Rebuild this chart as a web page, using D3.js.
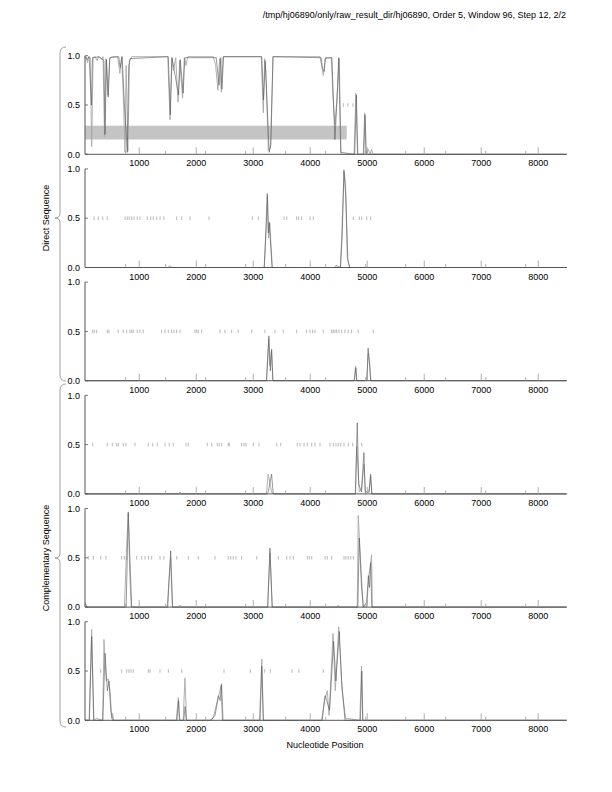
<!DOCTYPE html>
<html>
<head>
<meta charset="utf-8" />
<script src="https://d3js.org/d3.v7.min.js"></script>
<style>
  body { margin: 0; background: #fff; }
  text { font-family: "Liberation Sans", Arial, sans-serif; }
</style>
</head>
<body>
<div id="chart"></div>
<script>

// tick labels / axis values
var xMajor = [1000, 2000, 3000, 4000, 5000, 6000, 7000, 8000]
var xMinor = [761, 1463, 2165, 2867, 3569, 4271, 4973, 5675, 6377, 7079, 7781]
var yTicks = [0, 0.5, 1]
var titleText = "/tmp/hj06890/only/raw_result_dir/hj06890, Order 5, Window 96, Step 12, 2/2"

// panel 1 (frame 1, direct)
var p1Gray = [[48,0.97],[70,0.99],[90,0.93],[110,0.99],[140,0.98],[165,0.08],[190,0.98],[230,0.99],[260,0.95],[285,0.99],[345,0.96],[365,0.99],[390,0.18],[415,0.97],[450,0.6],[480,0.97],[520,0.99],[620,0.99],[660,0.82],[690,0.99],[720,0.6],[750,0.02],[770,0.9],[800,0.03],[830,0.95],[870,0.99],[1500,0.99],[1540,0.35],[1570,0.98],[1600,0.85],[1640,0.98],[1680,0.53],[1710,0.95],[1760,0.57],[1790,0.98],[1820,0.9],[1850,0.99],[2300,0.99],[2340,0.9],[2380,0.65],[2410,0.97],[2440,0.63],[2470,0.99],[3140,0.99],[3176,0.42],[3200,0.97],[3225,0.8],[3263,0.04],[3300,0.06],[3350,0.99],[4170,0.99],[4200,0.9],[4230,0.8],[4260,0.97],[4370,0.98],[4400,0.57],[4433,0.3],[4463,0.52],[4509,0.97],[4540,0.0],[4770,0.0],[4800,0.62],[4830,0.0],[4930,0.0],[4955,0.42],[4980,0.0],[5020,0.05],[5050,0],[5077,0.05],[5100,0],[8500,0]]
var p1Dark = [[48,0.99],[85,0.96],[120,0.99],[160,0.5],[178,0.98],[300,0.99],[380,0.95],[400,0.2],[425,0.96],[455,0.58],[485,0.98],[640,0.99],[665,0.88],[700,0.99],[740,0.5],[790,0.02],[815,0.9],[840,0.97],[1510,0.99],[1545,0.4],[1575,0.98],[1690,0.6],[1720,0.96],[1770,0.62],[1800,0.98],[2350,0.98],[2400,0.7],[2430,0.98],[2450,0.66],[2480,0.99],[3150,0.99],[3180,0.55],[3210,0.95],[3280,0.02],[3310,0.1],[3345,0.99],[4190,0.98],[4215,0.87],[4245,0.84],[4270,0.98],[4380,0.98],[4410,0.5],[4433,0.15],[4470,0.55],[4500,0.98],[4535,0.02],[4780,0.0],[4810,0.6],[4835,0.0],[4940,0.0],[4962,0.4],[4985,0.0],[8500,0]]
var p1Band = [0.15, 0.29]
var p1BandEnd = 4640
var p1Ticks = [4580, 4660, 4750]

// panel 2 (frame 2, direct)
var p2Gray = [[48,0],[1500,0],[1540,0.02],[1570,0],[3190,0],[3230,0.4],[3250,0.72],[3270,0.3],[3290,0.45],[3335,0],[4530,0],[4570,0.6],[4595,0.97],[4620,0.85],[4650,0.1],[4670,0.05],[4700,0],[8500,0]]
var p2Dark = [[48,0],[3195,0],[3246,0.75],[3265,0.35],[3281,0.46],[3330,0],[4420,0],[4450,0.02],[4530,0],[4560,0.3],[4591,0.99],[4625,0.7],[4660,0.08],[4690,0],[8500,0]]
var p2Ticks = [206,281,359,439,750,790,825,867,908,966,1013,1141,1201,1246,1306,1364,1434,1657,1745,1890,2224,2983,3089,3540,3587,3762,3798,3850,3996,4054,4756,4861,4903,4991,5061]

// panel 3 (frame 3, direct)
var p3Gray = [[48,0],[3230,0],[3270,0.42],[3290,0.15],[3320,0.3],[3345,0],[4770,0],[4796,0.15],[4820,0],[4990,0],[5018,0.28],[5040,0.2],[5065,0],[8500,0]]
var p3Dark = [[48,0],[3235,0],[3275,0.455],[3300,0.1],[3323,0.32],[3345,0],[4775,0],[4800,0.13],[4815,0],[4995,0],[5015,0.33],[5030,0.24],[5060,0],[8500,0]]
var p3Ticks = [182,211,253,439,468,632,719,779,837,867,895,965,1012,1070,1393,1451,1509,1568,1609,1656,1714,1977,2007,2035,2095,2416,2504,2621,2737,2972,3205,3381,3526,3761,3937,3995,4042,4082,4228,4375,4404,4433,4463,4504,4551,4609,4667,4726,4842,5105]

// panel 4 (frame 1, complementary)
var p4Gray = [[48,0],[1690,0],[1714,0.02],[1740,0],[3230,0],[3263,0.2],[3322,0.02],[3350,0],[4790,0],[4815,0.48],[4835,0.3],[4860,0.02],[4900,0.05],[4942,0.3],[4970,0.02],[5030,0.03],[5059,0.18],[5085,0],[8500,0]]
var p4Dark = [[48,0],[3240,0],[3263,0.02],[3322,0.2],[3350,0],[4795,0],[4825,0.72],[4850,0.1],[4900,0.02],[4942,0.42],[4965,0],[5035,0.02],[5059,0.2],[5080,0],[8500,0]]
var p4Ticks = [183,439,527,604,632,720,767,925,1159,1236,1317,1452,1527,1597,1820,1860,2194,2271,2369,2404,2447,2562,2580,2797,2838,2873,3001,3101,3412,3482,3773,3820,3891,3948,4026,4084,4171,4347,4405,4452,4492,4535,4592,4668,4745,4903]

// panel 5 (frame 2, complementary)
var p5Gray = [[48,0.05],[70,0.02],[90,0],[740,0],[780,0.64],[807,0.95],[835,0.3],[860,0],[1490,0],[1530,0.35],[1551,0.5],[1580,0],[1700,0],[1714,0.02],[1740,0],[3255,0],[3293,0.55],[3333,0],[4480,0],[4491,0.02],[4505,0],[4825,0],[4842,0.93],[4880,0.5],[4930,0],[4990,0],[5030,0.32],[5077,0.53],[5090,0],[8500,0]]
var p5Dark = [[48,0.03],[80,0],[770,0],[807,0.965],[867,0],[1500,0],[1551,0.57],[1585,0],[3252,0],[3293,0.6],[3333,0],[4835,0],[4860,0.7],[4900,0.2],[4930,0],[4990,0.05],[5020,0.32],[5040,0.2],[5060,0.45],[5080,0],[8500,0]]
var p5Ticks = [106,194,323,416,692,738,780,955,1043,1101,1159,1218,1364,1434,1657,1860,2036,2329,2562,2604,2650,2697,2797,3061,3440,3587,3645,3703,3949,3984,4026,4259,4299,4377,4592,4627,4668,4710,4756]

// panel 6 (frame 3, complementary)
var p6Gray = [[48,0],[120,0],[165,0.92],[205,0],[250,0.02],[358,0],[381,0.82],[420,0.4],[456,0.42],[486,0.3],[520,0.02],[533,0.07],[550,0],[1650,0],[1684,0.23],[1710,0],[1770,0],[1802,0.43],[1830,0],[2240,0],[2300,0.03],[2380,0.22],[2416,0.3],[2445,0.37],[2470,0],[3110,0],[3150,0.62],[3180,0],[4200,0],[4250,0.2],[4300,0.3],[4330,0.05],[4400,0.88],[4440,0.3],[4500,0.95],[4560,0.3],[4620,0.02],[4870,0],[4900,0.55],[4925,0],[8500,0]]
var p6Dark = [[48,0],[125,0],[165,0.85],[200,0],[360,0],[400,0.68],[440,0.3],[470,0.4],[500,0.1],[530,0],[1660,0],[1690,0.2],[1705,0],[1780,0],[1805,0.14],[1825,0],[2260,0],[2330,0.05],[2390,0.25],[2420,0.2],[2440,0.36],[2460,0],[3120,0],[3150,0.55],[3175,0],[4210,0],[4260,0.25],[4290,0.2],[4340,0.1],[4410,0.8],[4450,0.4],[4510,0.9],[4550,0.4],[4610,0],[4880,0],[4905,0.5],[4920,0],[8500,0]]
var p6Ticks = [323,692,780,820,855,895,1159,1188,1364,1510,1745,2487,2950,3200,3300,3680,3800,4230]

var panels = [
  {gray: p1Gray, dark: p1Dark, ticks: p1Ticks, band: true},
  {gray: p2Gray, dark: p2Dark, ticks: p2Ticks},
  {gray: p3Gray, dark: p3Dark, ticks: p3Ticks},
  {gray: p4Gray, dark: p4Dark, ticks: p4Ticks},
  {gray: p5Gray, dark: p5Dark, ticks: p5Ticks},
  {gray: p6Gray, dark: p6Dark, ticks: p6Ticks}
]

var W = 612, H = 792
var top0 = 55.7, pitch = 113.2, ph = 98.6

var svg = d3.select("#chart").append("svg")
  .attr("width", W).attr("height", H)

var x = d3.scaleLinear().domain([48, 8500]).range([85, 566.7])

svg.append("text")
  .attr("x", 566).attr("y", 18)
  .attr("text-anchor", "end")
  .style("font-size", "9px")
  .text(titleText)

panels.forEach(function(p, i) {
  var t = top0 + i * pitch
  var y = d3.scaleLinear().domain([0, 1]).range([t + ph, t])
  var g = svg.append("g").attr("class", "panel" + i)

  if (p.band) {
    g.append("rect")
      .attr("x", x(48)).attr("width", x(p1BandEnd) - x(48))
      .attr("y", y(p1Band[1])).attr("height", y(p1Band[0]) - y(p1Band[1]))
      .attr("fill", "#c4c4c4")
  }

  // stop marks at 0.5
  g.selectAll(".mark")
    .data(p.ticks)
    .enter().append("line")
    .attr("x1", function(d) { return x(d) }).attr("x2", function(d) { return x(d) })
    .attr("y1", y(0.5) - 1.8).attr("y2", y(0.5) + 1.8)
    .attr("stroke", "#999").attr("stroke-width", 0.7)

  var line = d3.line()
    .x(function(d) { return x(d[0]) })
    .y(function(d) { return y(d[1]) })

  g.append("path").datum(p.gray)
    .attr("d", line).attr("fill", "none")
    .attr("stroke", "#a8a8a8").attr("stroke-width", 0.9)
  g.append("path").datum(p.dark)
    .attr("d", line).attr("fill", "none")
    .attr("stroke", "#555").attr("stroke-width", 0.6)

  // x axis
  g.append("line")
    .attr("x1", x(48)).attr("x2", x(8500))
    .attr("y1", y(0)).attr("y2", y(0))
    .attr("stroke", "#555").attr("stroke-width", 1)
  g.selectAll(".maj").data(xMajor).enter().append("line")
    .attr("x1", function(d) { return x(d) }).attr("x2", function(d) { return x(d) })
    .attr("y1", y(0)).attr("y2", y(0) - 7)
    .attr("stroke", "#999").attr("stroke-width", 0.8)
  g.selectAll(".min").data(xMinor).enter().append("line")
    .attr("x1", function(d) { return x(d) }).attr("x2", function(d) { return x(d) })
    .attr("y1", y(0)).attr("y2", y(0) - 3.5)
    .attr("stroke", "#999").attr("stroke-width", 0.8)
  g.selectAll(".xl").data(xMajor).enter().append("text")
    .attr("x", function(d) { return x(d) }).attr("y", y(0) + 12)
    .attr("text-anchor", "middle")
    .style("font-size", "9px")
    .text(function(d) { return d })

  // y axis
  g.append("line")
    .attr("x1", x(48)).attr("x2", x(48))
    .attr("y1", y(0)).attr("y2", y(1))
    .attr("stroke", "#555").attr("stroke-width", 1)
  g.selectAll(".yt").data(yTicks).enter().append("line")
    .attr("x1", x(48)).attr("x2", x(48) + 3)
    .attr("y1", function(d) { return y(d) }).attr("y2", function(d) { return y(d) })
    .attr("stroke", "#555").attr("stroke-width", 0.8)
  g.selectAll(".yl").data(yTicks).enter().append("text")
    .attr("x", 80).attr("y", function(d) { return y(d) + 3.2 })
    .attr("text-anchor", "end")
    .style("font-size", "9px")
    .text(function(d) { return d3.format(".1f")(d) })
})

// braces
function brace(y0, y1, ym) {
  return "M66," + y0 + " Q60," + y0 + " 60," + (y0 + 6) +
    " L60," + (ym - 5) + " Q60," + ym + " 55," + ym +
    " Q60," + ym + " 60," + (ym + 5) +
    " L60," + (y1 - 6) + " Q60," + y1 + " 66," + y1
}
svg.append("path").attr("d", brace(47, 381, 218))
  .attr("fill", "none").attr("stroke", "#888").attr("stroke-width", 0.8)
svg.append("path").attr("d", brace(384, 727, 558))
  .attr("fill", "none").attr("stroke", "#888").attr("stroke-width", 0.8)

svg.append("text")
  .attr("transform", "translate(49,218) rotate(-90)")
  .attr("text-anchor", "middle")
  .style("font-size", "9px")
  .text("Direct Sequence")
svg.append("text")
  .attr("transform", "translate(49,558) rotate(-90)")
  .attr("text-anchor", "middle")
  .style("font-size", "9px")
  .text("Complementary Sequence")

svg.append("text")
  .attr("x", 325).attr("y", 748)
  .attr("text-anchor", "middle")
  .style("font-size", "9px")
  .text("Nucleotide Position")

</script>
</body>
</html>
